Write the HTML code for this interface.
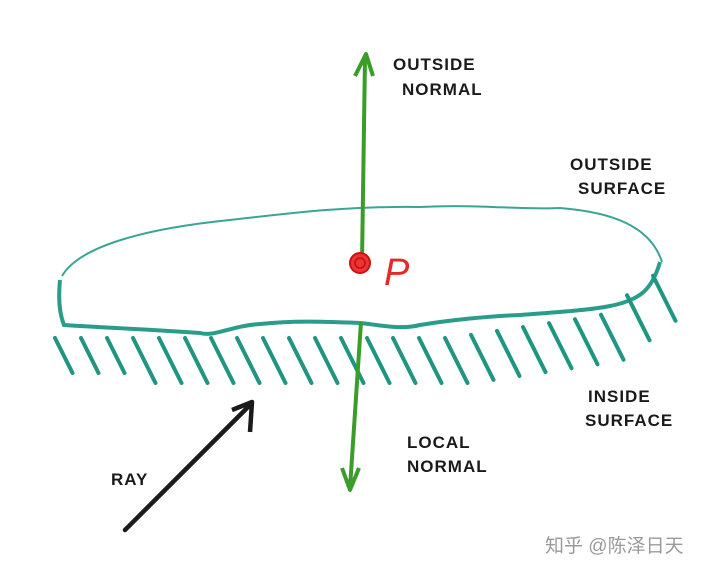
<!DOCTYPE html>
<html><head><meta charset="utf-8">
<style>
html,body{margin:0;padding:0;background:#fff;}
svg{display:block;}
.lbl{font-family:"Liberation Sans",sans-serif;font-weight:bold;font-size:17px;fill:#1a1a1a;letter-spacing:1px;}
</style></head>
<body>
<svg width="720" height="571" viewBox="0 0 720 571">
  <path d="M62,276 C80,245 150,228 230,220 C300,212 350,206 420,207 C480,204 520,210 560,208 C610,212 650,225 662,262" fill="none" stroke="#3aa595" stroke-width="2"/>
  <path d="M60,280 C58,300 60,315 64,325 C110,328 160,330 200,333 C215,337 230,326 260,324 C300,320 330,322 360,323 C380,325 400,330 420,325 C450,320 490,316 520,315 C560,312 590,310 610,306 C640,300 652,290 660,262" fill="none" stroke="#2a9d8a" stroke-width="4"/>
  <g id="hatch" stroke="#1f9582" stroke-width="4" stroke-linecap="round"></g>
  <line x1="362" y1="262" x2="365" y2="58" stroke="#3a9d2a" stroke-width="4"/>
  <path d="M355,76 L366,54 L373,76" fill="none" stroke="#3a9d2a" stroke-width="4" stroke-linejoin="round"/>
  <line x1="361" y1="322" x2="350" y2="488" stroke="#3a9d2a" stroke-width="4"/>
  <path d="M342,468 L350,490 L359,468" fill="none" stroke="#3a9d2a" stroke-width="4" stroke-linejoin="round"/>
  <circle cx="360" cy="263" r="10" fill="#e33" stroke="#c11" stroke-width="2"/>
  <circle cx="360" cy="263" r="5" fill="none" stroke="#b11" stroke-width="1.5"/>
  <text x="384" y="285" font-family="Liberation Sans,sans-serif" font-size="38" fill="#e32a2a" font-style="italic">P</text>
  <line x1="125" y1="530" x2="250" y2="405" stroke="#1a1a1a" stroke-width="4.5" stroke-linecap="round"/>
  <path d="M232,410 L252,402 L250,432" fill="none" stroke="#1a1a1a" stroke-width="4.5" stroke-linejoin="round"/>
  <text class="lbl" x="393" y="70">OUTSIDE</text>
  <text class="lbl" x="402" y="95">NORMAL</text>
  <text class="lbl" x="570" y="170">OUTSIDE</text>
  <text class="lbl" x="578" y="194">SURFACE</text>
  <text class="lbl" x="588" y="402">INSIDE</text>
  <text class="lbl" x="585" y="426">SURFACE</text>
  <text class="lbl" x="407" y="448">LOCAL</text>
  <text class="lbl" x="407" y="472">NORMAL</text>
  <text class="lbl" x="111" y="485">RAY</text>
  <text x="545" y="552" font-family="Liberation Sans,'Noto Sans CJK SC',sans-serif" font-size="19" fill="#9a9a9a">知乎 @陈泽日天</text>
</svg>
<script>
var g=document.getElementById('hatch');
function edgeY(x){ if(x<450) return 328; return 328-(x-450)*0.15-(x>600?(x-600)*0.6:0); }
for(var x=55;x<=660;x+=26){
  var y0=edgeY(x)+10;
  var len = x<120?35:45;
  var l=document.createElementNS('http://www.w3.org/2000/svg','line');
  
  
  l.setAttribute('x1',x); l.setAttribute('y1',y0);
  l.setAttribute('x2',x+len*0.5); l.setAttribute('y2',y0+len);
  g.appendChild(l);
}
</script>
</body></html>
